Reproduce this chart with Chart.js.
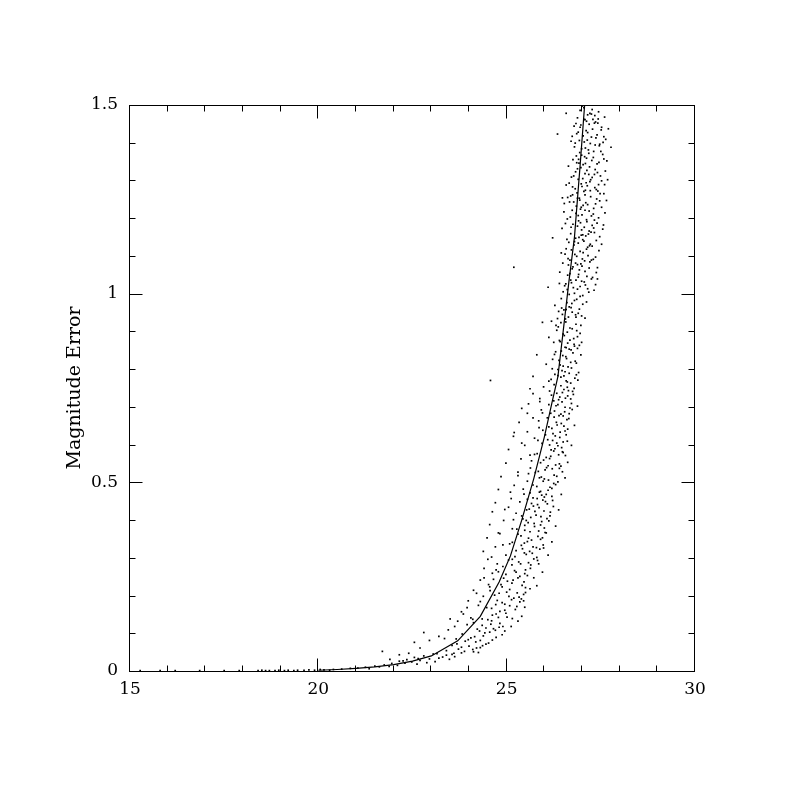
<!DOCTYPE html>
<html>
<head>
<meta charset="utf-8">
<script src="https://cdn.jsdelivr.net/npm/chart.js@4.4.0/dist/chart.umd.min.js"></script>
<style>
  html, body { margin: 0; padding: 0; background: #fff; }
  #wrap { width: 800px; height: 800px; }
</style>
</head>
<body>
<div id="wrap"><canvas id="magChart" width="800" height="800"></canvas></div>
<script>
// model error curve (magnitude vs error)
const curveMag = [20.0, 20.5, 21.0, 21.5, 22.0, 22.5, 23.0, 23.7, 24.3, 24.8, 25.1, 25.4, 25.72, 26.0, 26.2, 26.36, 26.5, 26.65, 26.8, 26.95, 27.1]
const curveErr = [0.002, 0.004, 0.007, 0.011, 0.017, 0.026, 0.040, 0.080, 0.145, 0.236, 0.305, 0.40, 0.51, 0.62, 0.71, 0.78, 0.90, 1.03, 1.15, 1.34, 1.54]

const errHigh = [
  [27.05,1.493],[27.21,1.478],[26.88,1.466],[27.34,1.472],[27.12,1.457],[26.97,1.447],[27.42,1.452],[27.28,1.436],[26.79,1.444],[27.15,1.427],
  [27.51,1.434],[27.03,1.418],[26.93,1.406],[27.37,1.413],[27.22,1.398],[26.71,1.404],[27.09,1.386],[27.46,1.392],[27.31,1.377],[26.99,1.384],
  [26.85,1.365],[27.18,1.372],[27.58,1.357],[27.07,1.363],[26.92,1.346],[27.26,1.353],[26.64,1.338],[27.40,1.344],[27.13,1.327],[26.97,1.334],
  [27.33,1.316],[26.83,1.323],[27.02,1.305],[27.49,1.312],[27.21,1.297],[26.90,1.303],[26.58,1.288],[27.11,1.294],[26.75,1.283],[27.38,1.276],
  [27.00,1.284],[26.87,1.267],[27.22,1.273],[26.62,1.255],[27.08,1.262],[27.47,1.246],[26.93,1.253],[27.15,1.236],[26.78,1.243],[27.31,1.226],
  [27.03,1.234],[26.52,1.217],[26.96,1.224],[27.25,1.206],[26.84,1.213],[27.12,1.196],[26.69,1.203],[27.40,1.187],[26.91,1.193],[27.06,1.176],
  [26.76,1.184],[27.19,1.166],[26.47,1.173],[26.98,1.155],[27.33,1.162],[26.83,1.147],[27.10,1.153],[26.65,1.136],[27.02,1.143],[27.27,1.126],
  [26.90,1.134],[26.72,1.116],[27.15,1.123],[26.55,1.105],[26.95,1.112],[27.36,1.097],[26.81,1.104],[27.07,1.087],[26.63,1.093],[26.88,1.077],
  [27.21,1.084],[26.74,1.066],[27.00,1.073],[26.41,1.057],[26.93,1.063],[27.13,1.046],[26.68,1.053],[26.84,1.036],[27.28,1.043],[26.57,1.026],
  [26.99,1.033],[26.77,1.016],[27.09,1.023],[26.50,1.005],[26.88,1.012],[26.66,0.998],[27.18,1.004],
  [27.00,1.497],[27.27,1.488],[27.44,1.482],[27.15,1.474],[26.95,1.486],[27.60,1.468],[27.08,1.461],[27.36,1.455],[27.19,1.449],[27.52,1.441],
  [26.90,1.428],[27.70,1.437],[27.11,1.432],[27.40,1.421],[26.86,1.424],[27.25,1.415],[27.63,1.409],[27.06,1.402],[27.47,1.396],[26.80,1.389],
  [27.17,1.381],[27.35,1.394],[27.77,1.388],[26.94,1.374],[27.55,1.369],[27.12,1.359],[26.76,1.355],[27.30,1.361],[27.03,1.342],[27.45,1.348],
  [27.20,1.336],[26.88,1.331],[27.62,1.325],[27.08,1.318],[27.41,1.321],[26.72,1.309],[27.27,1.308],[26.98,1.291],[27.52,1.299],[27.14,1.286],
  [26.82,1.278],[27.34,1.281],[27.05,1.271],[27.58,1.265],[26.70,1.259],[27.23,1.257],[26.94,1.248],[27.39,1.251],[27.10,1.241],[26.85,1.232],
  [27.52,1.229],[27.19,1.219],[26.74,1.221],[27.30,1.211],[27.00,1.209],[26.61,1.198],[27.44,1.201],[27.13,1.191],[26.88,1.179],[27.27,1.181],
  [26.99,1.169],[27.55,1.171],[26.70,1.159],[27.17,1.158],[26.92,1.149],[27.38,1.141],[27.05,1.139],[26.79,1.129],[27.22,1.131],[26.58,1.119],
  [27.03,1.109],[27.45,1.114],[26.86,1.099],[27.16,1.101],[26.68,1.089],[27.30,1.091],[26.97,1.079],[26.76,1.071],[27.41,1.069],[27.08,1.059],
  [26.62,1.049],[26.91,1.051],[27.25,1.039],[26.72,1.029],[27.06,1.031],[26.95,1.019],[26.54,1.021],[27.32,1.009],[26.80,1.001],[27.02,0.995],
  [27.29,1.462],[26.84,1.451],[27.58,1.416],[27.14,1.407],[26.99,1.367],[27.66,1.352],[27.35,1.329],[26.78,1.312],[27.44,1.289],[27.09,1.274],
  [26.67,1.243],[27.36,1.238],[27.61,1.214],[26.96,1.188],[27.24,1.163],[26.60,1.144],[27.47,1.151],[27.12,1.118],[26.83,1.081],[27.38,1.056],
  [26.70,1.036],[27.15,1.013],[27.50,1.377],[26.75,1.262],[27.33,1.195],[26.45,1.108],[27.19,1.068],[27.68,1.302],[26.53,1.239],[27.02,1.156],
  [27.25,1.476],[26.82,1.399],[27.09,1.345],[27.48,1.265],[26.90,1.207],[27.20,1.127],[26.64,1.076],[27.36,1.024],[27.57,1.182],[26.95,1.441],
  [26.58,1.478],[27.43,1.463],[26.74,1.417],[27.56,1.401],[26.91,1.356],[27.18,1.316],[26.66,1.293],[27.42,1.272],[26.98,1.229],[27.65,1.247],
  [26.56,1.186],[27.31,1.174],[26.80,1.138],[27.52,1.131],[26.49,1.081],[27.25,1.089],[26.61,1.011],[27.05,1.462],[26.86,1.347],[27.23,1.302],
  [26.88,1.253],[27.08,1.221],[26.71,1.176],[27.41,1.039],[26.90,1.044],[26.40,1.027],[27.01,1.092],[27.60,1.289],[27.33,1.452]
]

const errUpper = [
  [26.95,0.993],[26.45,0.987],[26.80,0.982],[26.60,0.976],[26.28,0.969],[27.02,0.972],[26.71,0.963],[26.52,0.957],[26.90,0.948],[26.38,0.953],
  [26.64,0.938],[26.83,0.944],[26.19,0.927],[26.56,0.933],[26.97,0.916],[26.44,0.923],[26.74,0.907],[26.61,0.898],[26.33,0.903],[26.88,0.886],
  [26.50,0.893],[26.68,0.877],[26.12,0.884],[26.79,0.866],[26.42,0.873],[26.58,0.857],[26.93,0.863],[26.30,0.846],[26.66,0.853],[26.49,0.836],
  [26.76,0.843],[26.22,0.826],[26.57,0.833],[26.85,0.816],[26.39,0.823],[26.63,0.806],[26.05,0.813],[26.47,0.796],[26.72,0.803],[26.28,0.786],
  [26.55,0.793],[26.81,0.776],[26.36,0.783],[26.61,0.766],[26.18,0.773],[26.44,0.756],[26.70,0.763],[26.52,0.746],[25.98,0.753],[26.33,0.736],
  [26.64,0.743],[26.41,0.726],[26.77,0.733],[26.25,0.716],[26.56,0.723],[26.12,0.706],[26.47,0.713],[26.68,0.697],[26.31,0.703],[26.54,0.687],
  [25.92,0.692],[26.39,0.677],[26.17,0.683],[26.60,0.666],[26.26,0.673],[26.45,0.656],[25.85,0.663],[26.12,0.647],[26.34,0.652],[26.55,0.636],
  [26.20,0.643],[26.03,0.626],[26.42,0.633],[25.74,0.617],[26.29,0.623],[26.50,0.607],[26.09,0.613],[26.36,0.597],[25.94,0.603],[26.18,0.586],
  [26.46,0.592],[25.81,0.576],[26.25,0.583],[26.05,0.566],[26.38,0.573],[25.66,0.557],[26.14,0.563],[26.30,0.546],[25.90,0.552],[26.21,0.536],
  [26.44,0.543],[25.76,0.526],[26.02,0.533],[26.33,0.516],[25.58,0.523],[26.11,0.506],[25.87,0.512],[26.25,0.497],[25.97,0.503],
  [26.86,0.985],[26.66,0.965],[26.93,0.959],[26.48,0.945],[26.74,0.951],[27.08,0.935],[26.57,0.925],[26.84,0.919],[26.37,0.912],[26.68,0.909],
  [26.95,0.895],[26.53,0.889],[26.78,0.881],[26.40,0.876],[26.62,0.869],[26.88,0.855],[26.45,0.848],[26.71,0.851],[26.27,0.839],[26.59,0.828],
  [26.82,0.821],[26.50,0.808],[26.36,0.799],[26.66,0.789],[26.91,0.791],[26.44,0.779],[26.58,0.769],[26.26,0.759],[26.79,0.749],[26.48,0.738],
  [26.62,0.729],[26.19,0.731],[26.38,0.719],[26.72,0.709],[26.55,0.699],[26.27,0.689],[26.44,0.681],[26.65,0.669],[26.08,0.671],[26.32,0.659],
  [26.52,0.649],[26.23,0.629],[26.41,0.619],[26.61,0.609],[26.14,0.599],[26.28,0.589],[26.50,0.579],[26.17,0.569],[25.98,0.559],[26.40,0.549],
  [26.06,0.539],[25.84,0.529],[26.26,0.519],[26.00,0.509],[26.36,0.501],
  [26.73,0.974],[26.99,0.941],[26.35,0.934],[26.86,0.902],[26.25,0.871],[26.97,0.838],[26.70,0.818],[26.42,0.811],[26.89,0.771],[26.14,0.742],
  [26.74,0.693],[26.50,0.676],[26.62,0.641],[25.96,0.638],[26.33,0.604],[26.56,0.571],[26.10,0.544],[26.48,0.528],[25.92,0.514],[26.20,0.484],
  [26.58,0.958],[26.80,0.861],[26.52,0.782],[26.36,0.706],[26.22,0.611],
  [27.12,0.978],[26.46,0.962],[26.84,0.938],[26.31,0.916],[26.99,0.871],[26.55,0.858],[26.21,0.801],[26.85,0.785],[26.61,0.752],[26.12,0.768],
  [26.70,0.721]
]

const errMiddle = [
  [25.70,0.493],[26.15,0.487],[25.44,0.482],[25.90,0.476],[26.05,0.468],[25.62,0.472],[25.81,0.457],[26.20,0.463],[25.35,0.448],[25.96,0.453],
  [25.71,0.437],[26.08,0.443],[25.53,0.427],[25.86,0.433],[25.25,0.418],[25.99,0.424],[25.64,0.407],[25.78,0.413],[26.12,0.398],[25.43,0.403],
  [25.90,0.387],[25.57,0.393],[25.15,0.377],[25.74,0.383],[26.02,0.367],[25.48,0.373],[25.83,0.357],[25.30,0.363],[25.66,0.347],[25.95,0.353],
  [25.08,0.337],[25.55,0.343],[25.79,0.327],[25.39,0.333],[25.61,0.317],[25.88,0.323],[24.98,0.307],[25.47,0.313],[25.72,0.297],[25.22,0.303],
  [25.58,0.287],[25.82,0.293],[25.80,0.489],[26.10,0.479],[25.93,0.466],[25.70,0.459],[26.03,0.449],[25.82,0.441],[25.60,0.429],[26.16,0.421],
  [25.91,0.409],[25.52,0.399],[25.73,0.391],[26.00,0.379],[25.62,0.369],[25.38,0.358],[25.90,0.349],[25.47,0.339],[25.70,0.329],[25.25,0.319],
  [25.52,0.309],[25.80,0.301],[25.32,0.289],[25.64,0.281],
  [25.87,0.474],[25.55,0.455],[26.24,0.436],[25.75,0.423],[25.48,0.386],[26.07,0.404],[25.85,0.371],[25.58,0.352],[25.97,0.334],[25.42,0.324],
  [25.68,0.312],[25.15,0.296],[25.93,0.396],[26.00,0.461],[25.66,0.444]
]

// wide wings of the band between errors 0.1 and 0.75
const errSpread = [
  [25.62,0.748],[25.70,0.735],[25.88,0.722],[25.58,0.708],[25.40,0.696],[25.95,0.684],[25.70,0.671],[25.33,0.659],[25.86,0.645],[25.55,0.634],
  [25.18,0.622],[25.83,0.611],[25.48,0.598],[25.05,0.587],[25.74,0.574],[25.38,0.562],[24.98,0.551],[25.63,0.538],[25.30,0.527],[24.85,0.515],
  [25.55,0.503],[25.20,0.492],[24.78,0.481],[25.46,0.469],[25.12,0.457],[24.70,0.446],[25.05,0.434],[24.62,0.422],[25.40,0.411],[24.92,0.399],
  [24.55,0.388],[25.27,0.376],[24.82,0.364],[24.48,0.353],[25.15,0.341],[24.70,0.329],[24.38,0.317],[24.50,0.296],[24.75,0.284],[24.40,0.272],
  [24.62,0.259],[24.30,0.241],[24.52,0.229],[24.12,0.214],[24.38,0.198],[23.98,0.186],[24.25,0.174],[23.85,0.151],[24.10,0.137],[23.62,0.118],
  [26.75,0.741],[26.88,0.702],[26.66,0.682],[26.80,0.651],[26.58,0.626],[26.72,0.598],[26.48,0.581],[26.62,0.553],[26.40,0.537],[26.55,0.512],
  [26.30,0.494],[26.45,0.468],[26.22,0.452],[26.38,0.427],[26.15,0.411],[26.30,0.384],[26.05,0.366],[26.20,0.342],[25.98,0.326],[26.10,0.307],
  [25.85,0.284],[25.95,0.262],[25.72,0.247],[25.80,0.226],[25.50,0.208],[25.45,0.186],[25.48,0.169],[25.30,0.132],[25.12,0.118]
]

const errLower = [
  [25.05,0.294],[25.37,0.284],[24.90,0.277],[25.63,0.272],[25.21,0.266],[25.48,0.258],[24.78,0.263],[25.30,0.247],[25.55,0.253],[25.02,0.238],
  [24.65,0.243],[25.41,0.227],[25.14,0.233],[25.62,0.218],[24.88,0.223],[25.28,0.207],[24.56,0.213],[25.06,0.198],[25.45,0.203],[24.75,0.187],
  [25.19,0.193],[24.95,0.177],[25.35,0.183],[24.47,0.168],[25.08,0.173],[24.82,0.158],[25.23,0.163],[24.62,0.148],[24.98,0.153],[25.40,0.145],
  [24.35,0.138],[24.78,0.142],[24.12,0.128],[24.60,0.133],[24.90,0.118],[23.95,0.123],[24.45,0.114],[24.70,0.108],[24.22,0.111],[23.82,0.098],
  [24.55,0.103],[24.88,0.096],[24.05,0.088],[24.38,0.093],[23.66,0.085],[24.62,0.082],[24.18,0.077],[23.90,0.079],[24.45,0.071],[23.55,0.068],
  [24.00,0.066],[24.30,0.062],[23.72,0.058],[24.10,0.057],[23.40,0.054],[23.88,0.052],[24.25,0.049],[23.60,0.047],[23.15,0.046],
  [25.14,0.281],[25.50,0.268],[24.98,0.256],[25.35,0.251],[25.17,0.241],[24.85,0.229],[25.50,0.221],[25.00,0.209],[25.33,0.196],[24.68,0.201],
  [25.13,0.189],[24.88,0.181],[25.27,0.171],[24.60,0.166],[24.95,0.161],[24.72,0.151],[25.15,0.139],[24.50,0.136],[24.82,0.126],[24.35,0.121],
  [24.65,0.112],[24.95,0.106],[24.42,0.101],[24.15,0.091],[24.72,0.089],[24.30,0.081],[24.52,0.074],[23.80,0.063],[24.20,0.061],
  [25.25,0.262],[24.92,0.246],[25.46,0.236],[25.08,0.216],[24.80,0.206],[25.39,0.191],[24.71,0.176],[25.01,0.143],[24.58,0.124],[24.28,0.106],
  [24.80,0.116],[23.98,0.083],[24.36,0.067],[23.68,0.072],[24.12,0.051]
]

const errFloor = [
  [23.05,0.045],[23.40,0.042],[22.80,0.040],[23.62,0.038],[22.55,0.036],[23.20,0.034],[22.95,0.032],[22.35,0.030],[23.48,0.031],[22.70,0.028],
  [22.15,0.026],[23.10,0.025],[22.48,0.024],[22.88,0.022],[21.95,0.020],[22.30,0.021],[22.62,0.018],[21.75,0.016],[22.10,0.015],[21.50,0.013],
  [21.88,0.012],[21.25,0.010],[21.62,0.011],[21.05,0.008],[20.85,0.007],[21.35,0.006],[20.62,0.005],[20.40,0.004],[20.15,0.003],[19.90,0.002],
  [19.62,0.002],[19.35,0.001],[19.10,0.001],[18.85,0.001],[18.60,0.001],[18.40,0.001],[20.05,0.004],[19.75,0.003],[19.20,0.002],[18.95,0.002],
  [18.70,0.001],[18.50,0.002],[20.30,0.002],[19.45,0.002],[17.90,0.001],[17.50,0.001],[16.85,0.001],[16.20,0.001],[15.80,0.001],[15.27,0.001],
  [23.30,0.037],[22.65,0.033],[23.55,0.044],[22.25,0.027],[23.80,0.048]
]

const leftWing = [
  [26.35,1.423],[26.48,1.254],[26.22,1.148],[26.10,1.017],[25.95,0.924],[25.80,0.838],[25.70,0.781],[25.88,0.714],[25.55,0.683],[25.20,0.632],
  [25.40,0.604],[25.62,0.572],[25.30,0.518],[25.10,0.474],[24.95,0.428],[25.18,0.401],[24.78,0.366],[24.90,0.334],[24.60,0.302],[24.72,0.268],
  [24.40,0.247],[24.55,0.223],[24.20,0.206],[24.30,0.184],[23.95,0.168],[24.05,0.141],[23.70,0.132],[23.45,0.109],[23.80,0.157],[23.20,0.092],
  [22.95,0.081],[23.35,0.086],[22.70,0.061],[22.40,0.047],[22.15,0.043],[21.90,0.031],[22.55,0.076],[21.70,0.052],[22.80,0.102],[23.50,0.138]
]

const outliers = [[25.19,1.07],[24.57,0.77]]

const xTicks = [15, 20, 25, 30]
const yTicks = [0, 0.5, 1, 1.5]

const stars = errHigh.concat(errUpper, errMiddle, errSpread, errLower, errFloor, leftWing, outliers)
  .map(p => ({ x: p[0], y: p[1] }))
const curve = curveMag.map((m, i) => ({ x: m, y: curveErr[i] }))

const serif = 'DejaVu Serif'

// box frame with inward ticks on all four sides (PGPLOT style)
const frameTicks = {
  id: 'frameTicks',
  afterDraw(chart) {
    const ctx = chart.ctx
    const a = chart.chartArea
    const xs = chart.scales.x
    const ys = chart.scales.y
    const L = Math.round(a.left) - 0.5
    const R = Math.round(a.right) - 0.5
    const T = Math.round(a.top) + 0.5
    const B = Math.round(a.bottom) + 0.5
    ctx.save()
    ctx.strokeStyle = '#000'
    ctx.lineWidth = 1
    ctx.strokeRect(L, T, R - L, B - T)
    ctx.beginPath()
    for (let v = xs.min; v <= xs.max; v++) {
      const px = Math.round(xs.getPixelForValue(v)) - 0.5
      const len = v % 5 === 0 ? 13 : 6
      ctx.moveTo(px, B); ctx.lineTo(px, B - len)
      ctx.moveTo(px, T); ctx.lineTo(px, T + len)
    }
    for (let i = 0; i <= 15; i++) {
      const py = Math.round(ys.getPixelForValue(i / 10)) + 0.5
      const len = i % 5 === 0 ? 13 : 6
      ctx.moveTo(L, py); ctx.lineTo(L + len, py)
      ctx.moveTo(R, py); ctx.lineTo(R - len, py)
    }
    ctx.stroke()
    ctx.restore()
  }
}

new Chart(document.getElementById('magChart').getContext('2d'), {
  type: 'scatter',
  data: {
    datasets: [
      {
        label: 'stars',
        data: stars,
        pointStyle: 'rect',
        pointRadius: 1.2,
        pointBorderWidth: 0,
        backgroundColor: '#000',
        borderColor: '#000'
      },
      {
        label: 'model',
        data: curve,
        showLine: true,
        pointRadius: 0,
        borderColor: '#000',
        borderWidth: 1.2,
        tension: 0
      }
    ]
  },
  plugins: [frameTicks],
  options: {
    responsive: false,
    animation: false,
    events: [],
    layout: { padding: { top: 105, right: 105, left: 0, bottom: 0 } },
    plugins: { legend: { display: false }, tooltip: { enabled: false } },
    scales: {
      x: {
        type: 'linear',
        min: 15,
        max: 30,
        afterFit: s => { s.height = 129 },
        afterBuildTicks: s => { s.ticks = xTicks.map(v => ({ value: v })) },
        grid: { display: false, drawTicks: false },
        border: { display: false },
        ticks: { padding: 8, color: '#000', font: { family: serif, size: 17 }, callback: v => String(v) }
      },
      y: {
        type: 'linear',
        min: 0,
        max: 1.5,
        afterFit: s => { s.width = 130 },
        afterBuildTicks: s => { s.ticks = yTicks.map(v => ({ value: v })) },
        grid: { display: false, drawTicks: false },
        border: { display: false },
        ticks: { padding: 12, color: '#000', font: { family: serif, size: 17 }, callback: v => String(v) },
        title: {
          display: true,
          text: 'Magnitude Error',
          color: '#000',
          font: { family: serif, size: 19 },
          padding: { top: 64, bottom: 0 }
        }
      }
    }
  }
})
</script>
</body>
</html>
